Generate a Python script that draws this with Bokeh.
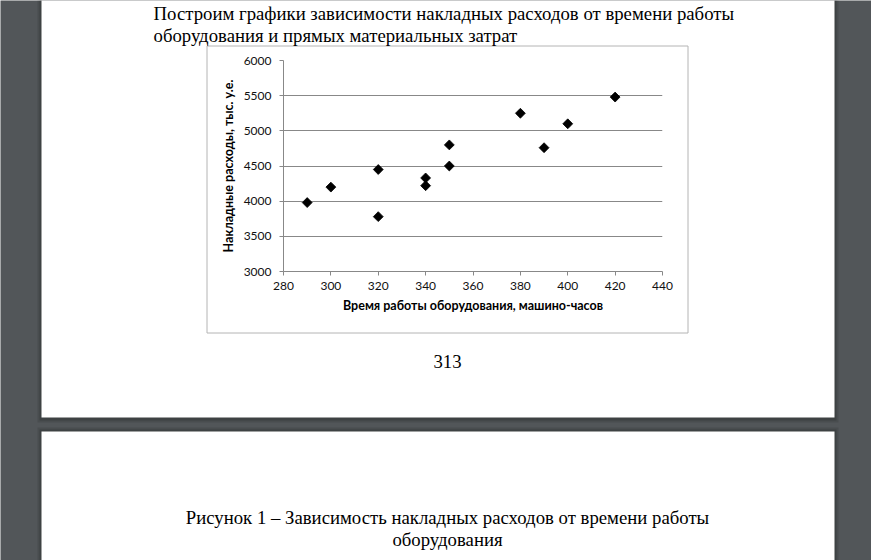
from bokeh.plotting import figure
from bokeh.models import Range1d, FixedTicker
from bokeh.core.properties import value
from bokeh.embed import file_html
from bokeh.resources import INLINE

# ---- data ----
hours = [290, 300, 320, 320, 340, 340, 350, 350, 380, 390, 400, 420]
overhead = [3980, 4200, 4450, 3780, 4330, 4220, 4800, 4500, 5250, 4760, 5100, 5480]
x_ticks = [280, 300, 320, 340, 360, 380, 400, 420, 440]
y_ticks = [3000, 3500, 4000, 4500, 5000, 5500, 6000]

intro_line1 = "Построим графики зависимости накладных расходов  от времени работы"
intro_line2 = "оборудования и прямых материальных затрат"
page_number = "313"
caption_line1 = "Рисунок 1 – Зависимость накладных расходов от времени работы"
caption_line2 = "оборудования"
x_title = "Время работы оборудования, машино-часов"
y_title = "Накладные расходы, тыс. у.е."

W, H = 871, 560
L, R, T, B = 283, 662, 60, 271

# ---- document background figure (pixel coordinates, y downward) ----
doc = figure(width=W, height=H, x_range=Range1d(0, W), y_range=Range1d(H, 0),
             output_backend="svg", toolbar_location=None,
             x_axis_location=None, y_axis_location=None, min_border=0)
doc.background_fill_color = "#525659"
doc.border_fill_color = "#525659"
doc.outline_line_color = None
doc.grid.visible = False

# shadows
doc.quad(left=[37, 37], right=[838, 838], top=[-10, 427], bottom=[422, 580],
         fill_color="black", fill_alpha=0.10, line_color=None)
doc.quad(left=[39, 39], right=[836, 836], top=[-10, 429], bottom=[420, 580],
         fill_color="black", fill_alpha=0.14, line_color=None)
# pages
doc.quad(left=[41, 41], right=[834, 834], top=[-10, 431], bottom=[417, 580],
         fill_color="white", line_color=None)
# chart frame
doc.quad(left=[206.5], right=[687.5], top=[45.5], bottom=[332.5],
         fill_color=None, line_color="#b4b4b4", line_width=1)

serif = dict(text_font=value("Liberation Serif"), text_font_size="18.75px",
             text_color="black", text_baseline="alphabetic")
doc.text(x=[153, 153], y=[13, 35], text=[intro_line1, intro_line2], text_align="left", **serif)
doc.text(x=[447, 447, 447], y=[361, 517, 539], text=[page_number, caption_line1, caption_line2],
         text_align="center", **serif)

# ---- chart figure (transparent, overlaid) ----
p = figure(width=W, height=H, x_range=Range1d(280, 440), y_range=Range1d(3000, 6000),
           output_backend="svg", toolbar_location=None,
           min_border_left=L, min_border_right=W - R, min_border_top=T, min_border_bottom=H - B)
p.border_fill_color = None
p.background_fill_color = None
p.outline_line_color = None
p.styles = {"position": "absolute", "left": "0px", "top": "0px"}

p.scatter(hours, overhead, marker="square", size=7, angle=0.785398,
          fill_color="black", line_color="black", line_width=0.8)

p.xgrid.grid_line_color = None
p.ygrid.ticker = FixedTicker(ticks=y_ticks)
p.ygrid.grid_line_color = "#888888"
p.ygrid.grid_line_width = 1

for ax in (p.xaxis[0], p.yaxis[0]):
    ax.axis_line_color = "#888888"
    ax.major_tick_line_color = "#888888"
    ax.minor_tick_line_color = None
    ax.major_tick_in = 0
    ax.major_tick_out = 4
    ax.major_label_text_font = "Lato"
    ax.major_label_text_font_size = "12px"
    ax.major_label_text_color = "#111111"
    ax.axis_label_text_font = "Lato"
    ax.axis_label_text_font_style = "bold"
    ax.axis_label_text_font_size = "12.5px"
    ax.axis_label_text_color = "black"

p.xaxis[0].ticker = FixedTicker(ticks=x_ticks)
p.yaxis[0].ticker = FixedTicker(ticks=y_ticks)
p.xaxis[0].major_label_standoff = 6
p.yaxis[0].major_label_standoff = 8
p.xaxis[0].axis_label = x_title
p.yaxis[0].axis_label = y_title
p.xaxis[0].axis_label_standoff = 5
p.yaxis[0].axis_label_standoff = 5

open("out.html", "w").write(file_html([doc, p], INLINE))
